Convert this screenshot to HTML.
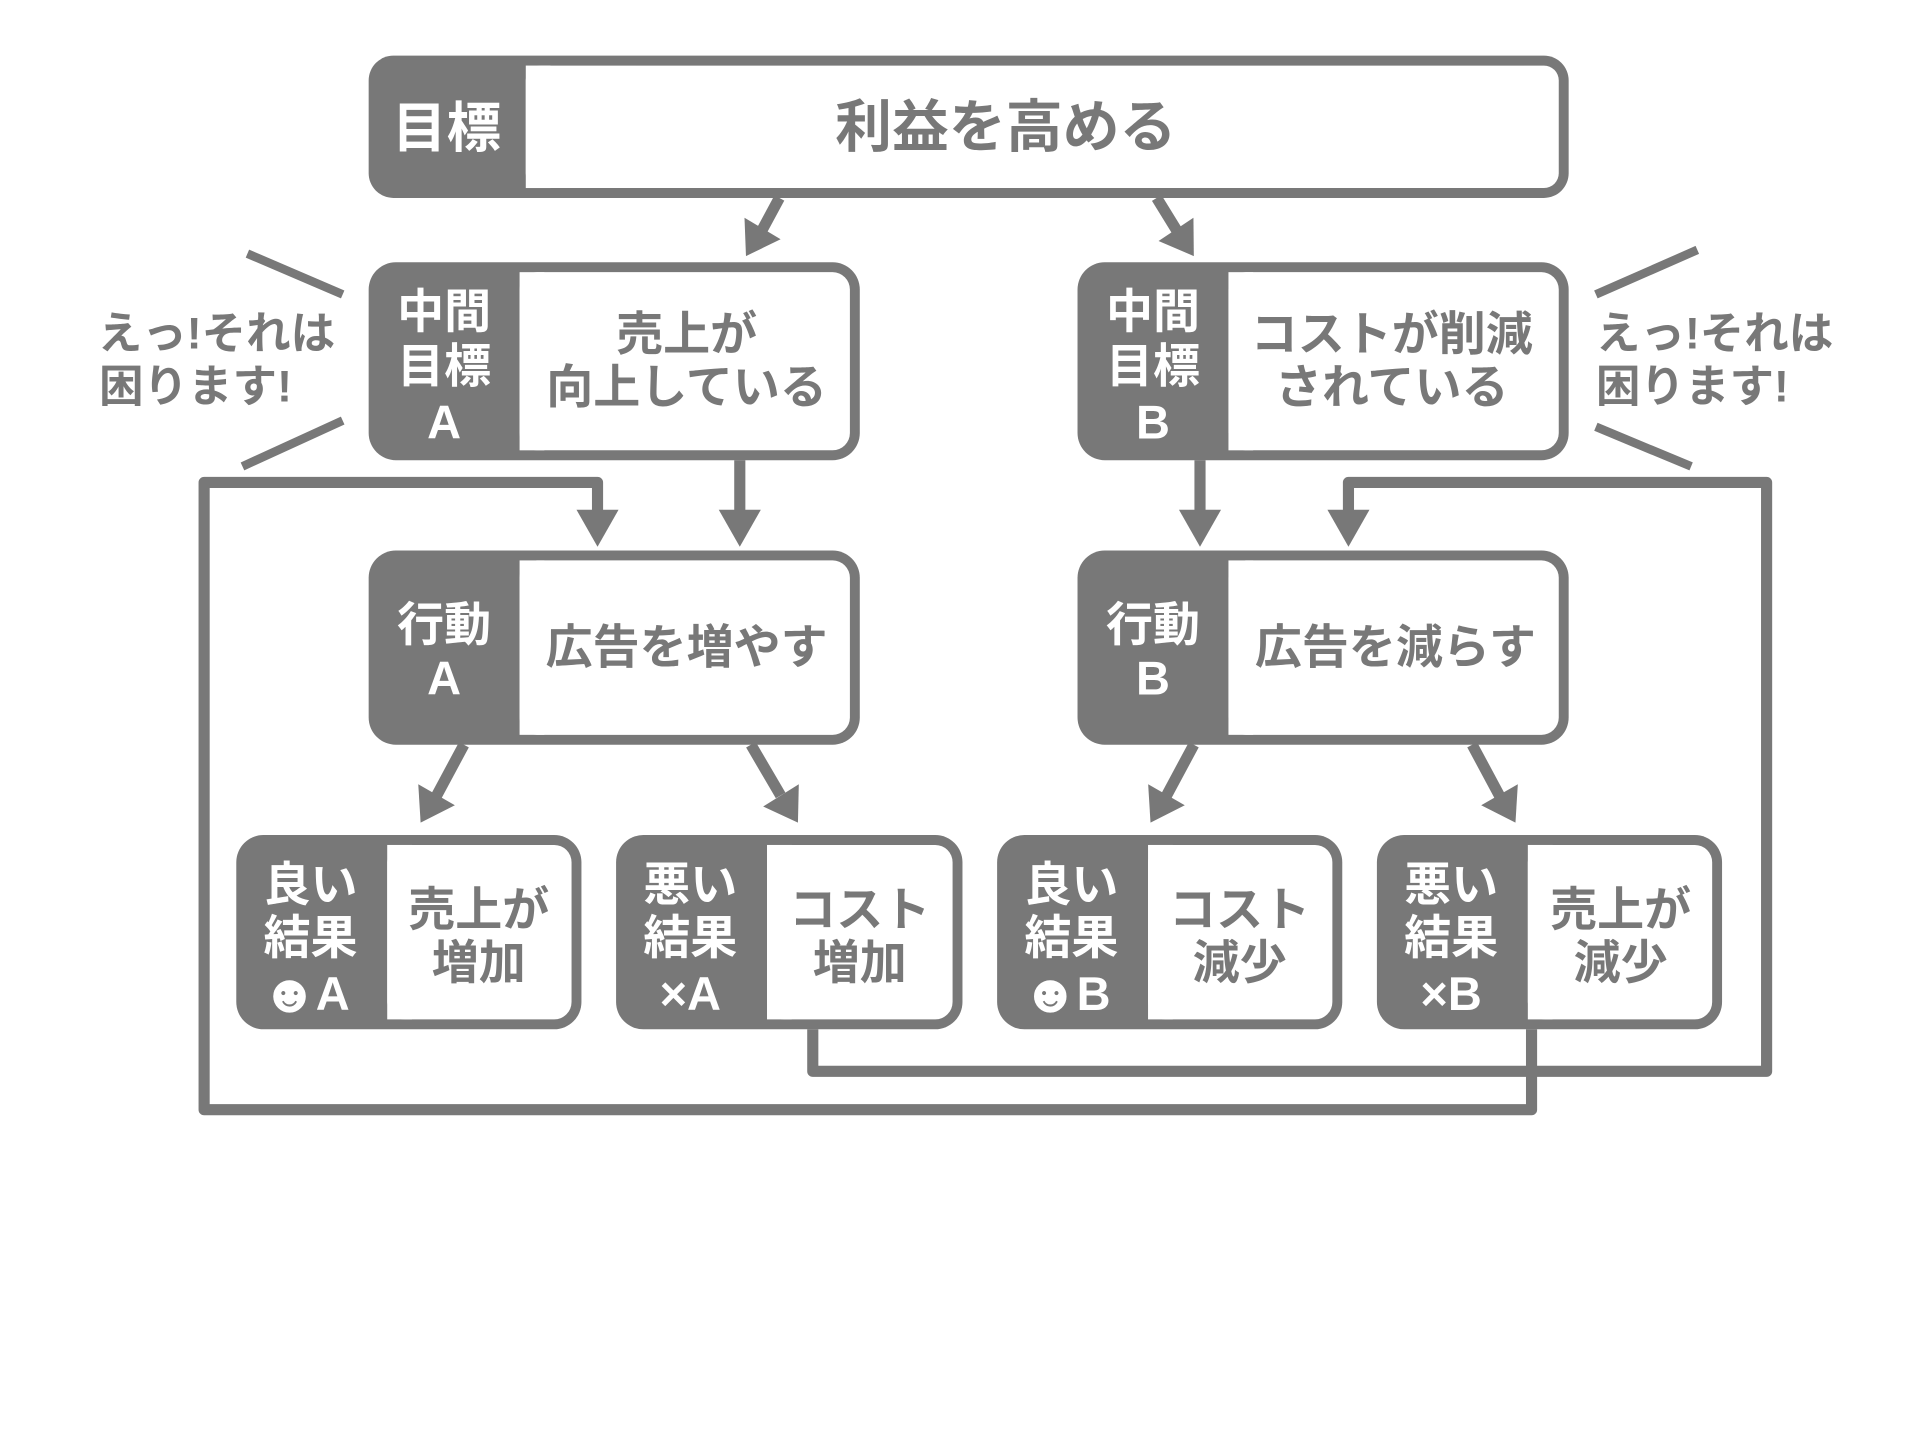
<!DOCTYPE html>
<html><head><meta charset="utf-8"><style>
html,body{margin:0;padding:0;background:#fff;}
svg{display:block;}
text{font-family:"Liberation Sans","Noto Sans CJK JP",sans-serif;font-weight:bold;text-anchor:middle;dominant-baseline:central;}
.w{fill:#fff;}
.g{fill:#787878;}
</style></head><body>
<svg width="1920" height="1440" viewBox="0 0 1552 1164" xmlns="http://www.w3.org/2000/svg">
<g fill="none" stroke="#787878" stroke-width="9" stroke-linejoin="round">
  <polyline points="1238,832 1238,897 165,897 165,390 483,390 483,418"/>
  <polyline points="657,832 657,866 1428,866 1428,390 1090,390 1090,418"/>
  <line x1="598" y1="372" x2="598" y2="416"/>
  <line x1="970" y1="372" x2="970" y2="416"/>
  <line x1="630" y1="160" x2="616" y2="186"/>
  <line x1="935" y1="160" x2="951" y2="186"/>
  <line x1="375" y1="602" x2="353" y2="643"/>
  <line x1="607" y1="602" x2="631" y2="643"/>
  <line x1="965" y1="602" x2="943" y2="643"/>
  <line x1="1190" y1="602" x2="1212" y2="643"/>
  <line x1="200" y1="205" x2="277" y2="238" stroke-width="7"/>
  <line x1="277" y1="340" x2="196" y2="377" stroke-width="7"/>
  <line x1="1372" y1="202" x2="1290" y2="238" stroke-width="7"/>
  <line x1="1290" y1="345" x2="1367" y2="377" stroke-width="7"/>
</g>
<g class="g">
  <polygon points="466,412 500,412 483,442"/>
  <polygon points="1073,412 1107,412 1090,442"/>
  <polygon points="581,412 615,412 598,442"/>
  <polygon points="953,412 987,412 970,442"/>
  <polygon points="631,193.4 601.8,176 603,207"/>
  <polygon points="964.7,176 936.5,194.8 965,207"/>
  <polygon points="367.7,650.9 338.1,633.9 340,665"/>
  <polygon points="645.7,633.9 616.9,651.9 645,665"/>
  <polygon points="957.7,650.9 928.1,633.9 930,665"/>
  <polygon points="1226.9,633.9 1197.3,650.9 1225,665"/>
</g>
<g class="g">
  <rect x="298" y="45" width="970" height="115" rx="20"/>
  <rect x="298" y="212" width="397" height="160" rx="22"/>
  <rect x="871" y="212" width="397" height="160" rx="22"/>
  <rect x="298" y="445" width="397" height="157" rx="22"/>
  <rect x="871" y="445" width="397" height="157" rx="22"/>
  <rect x="191" y="675" width="279" height="157" rx="22"/>
  <rect x="498" y="675" width="280" height="157" rx="22"/>
  <rect x="806" y="675" width="279" height="157" rx="22"/>
  <rect x="1113" y="675" width="279" height="157" rx="22"/>
</g>
<g class="w">
  <rect x="425" y="53" width="835" height="99" rx="12"/><rect x="425" y="53" width="20" height="99"/>
  <rect x="420" y="220" width="267" height="144" rx="14"/><rect x="420" y="220" width="20" height="144"/>
  <rect x="993" y="220" width="267" height="144" rx="14"/><rect x="993" y="220" width="20" height="144"/>
  <rect x="420" y="453" width="267" height="141" rx="14"/><rect x="420" y="453" width="20" height="141"/>
  <rect x="993" y="453" width="267" height="141" rx="14"/><rect x="993" y="453" width="20" height="141"/>
  <rect x="313" y="683" width="149" height="141" rx="14"/><rect x="313" y="683" width="20" height="141"/>
  <rect x="620" y="683" width="150" height="141" rx="14"/><rect x="620" y="683" width="20" height="141"/>
  <rect x="928" y="683" width="149" height="141" rx="14"/><rect x="928" y="683" width="20" height="141"/>
  <rect x="1235" y="683" width="149" height="141" rx="14"/><rect x="1235" y="683" width="20" height="141"/>
</g>
<g class="w" font-size="38">
  <text x="361" y="104" font-size="44">目標</text>
  <text x="359" y="252">中間</text><text x="359" y="296">目標</text><text x="359" y="341">A</text>
  <text x="932" y="252">中間</text><text x="932" y="296">目標</text><text x="932" y="341">B</text>
  <text x="359" y="505">行動</text><text x="359" y="548">A</text>
  <text x="932" y="505">行動</text><text x="932" y="548">B</text>
  <text x="251" y="715">良い</text><text x="251" y="758">結果</text>
  <text x="234" y="803" font-size="44">☻</text><text x="269" y="803">A</text>
  <text x="558" y="715">悪い</text><text x="558" y="758">結果</text><text x="558" y="803">×A</text>
  <text x="866" y="715">良い</text><text x="866" y="758">結果</text>
  <text x="849" y="803" font-size="44">☻</text><text x="884" y="803">B</text>
  <text x="1173" y="715">悪い</text><text x="1173" y="758">結果</text><text x="1173" y="803">×B</text>
</g>
<g class="g" font-size="38">
  <text x="813" y="103" font-size="46">利益を高める</text>
  <text x="555" y="270">売上が</text><text x="555" y="313">向上している</text>
  <text x="1125" y="270">コストが削減</text><text x="1125" y="313">されている</text>
  <text x="555" y="523">広告を増やす</text>
  <text x="1128" y="523">広告を減らす</text>
  <text x="387" y="735">売上が</text><text x="387" y="778">増加</text>
  <text x="695" y="735">コスト</text><text x="695" y="778">増加</text>
  <text x="1002" y="735">コスト</text><text x="1002" y="778">減少</text>
  <text x="1310" y="735">売上が</text><text x="1310" y="778">減少</text>
  <text x="175" y="270" font-size="36">えっ!それは</text><text x="158" y="313" font-size="36">困ります!</text>
  <text x="1386" y="270" font-size="36">えっ!それは</text><text x="1368" y="313" font-size="36">困ります!</text>
</g>
</svg>
</body></html>
